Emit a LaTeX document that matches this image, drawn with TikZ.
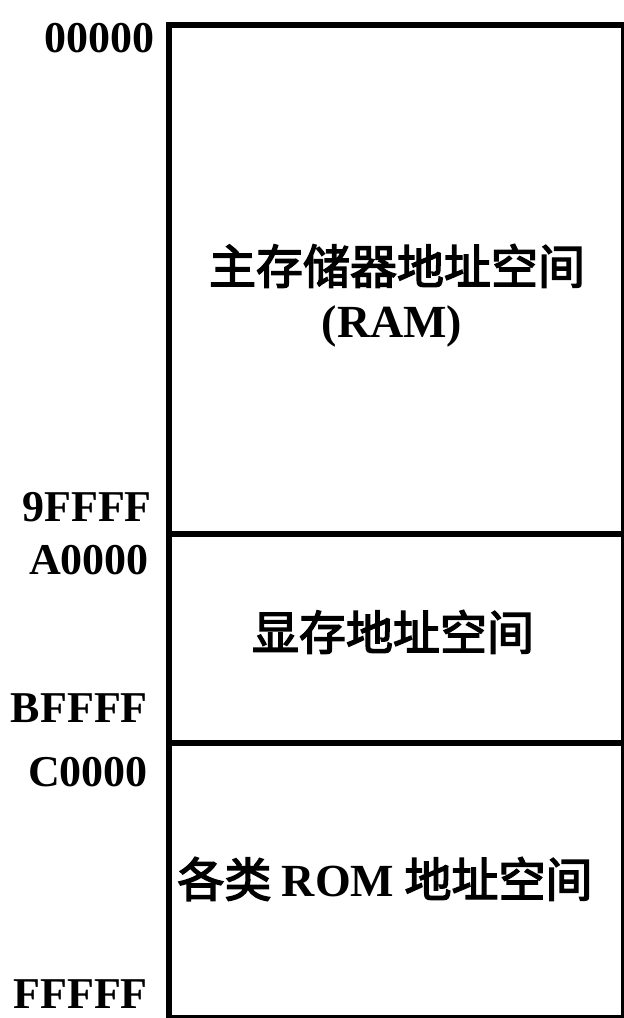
\documentclass[tikz,border=0pt]{standalone}
\usepackage{fontspec}
\setmainfont{Liberation Serif}
\newfontfamily\cjk[FakeBold=3]{Noto Sans CJK SC}
\begin{document}
\begin{tikzpicture}[x=1pt,y=-1pt,
  region/.style={draw=black,line width=6pt,inner sep=0pt,anchor=north west},
  addr/.style={anchor=east,inner sep=0pt,font=\fontsize{44}{44}\selectfont\bfseries},
  zh/.style={inner sep=0pt,font=\fontsize{47}{50}\selectfont\cjk},
  lat/.style={inner sep=0pt,font=\fontsize{46}{50}\selectfont\bfseries}]
\useasboundingbox (0,0) rectangle (624,1018);
% regions
\node[region,minimum width=455pt,minimum height=509pt] (ram) at (166,22) {};
\node[region,minimum width=455pt,minimum height=209pt] (vram) at (166,531) {};
\node[region,minimum width=455pt,minimum height=275pt] (rom) at (166,740) {};
% labels inside
\node[zh] (t1) at (397,266) {主存储器地址空间};
\node[lat] (t2) at (392,326) {(RAM)};
\node[zh] (t3) at (393,632) {显存地址空间};
\node[zh] (t4) at (385,879) {各类\hspace{0.22em}{\fontsize{46}{50}\selectfont\rmfamily\bfseries ROM}\hspace{0.22em}地址空间};
% addresses
\node[addr] (a1) at (155,38) {00000};
\node[addr] (a2) at (152,507) {9FFFF};
\node[addr] (a3) at (149,560) {A0000};
\node[addr] (a4) at (148,708) {BFFFF};
\node[addr] (a5) at (148,772) {C0000};
\node[addr] (a6) at (148,994) {FFFFF};
\end{tikzpicture}
\end{document}
